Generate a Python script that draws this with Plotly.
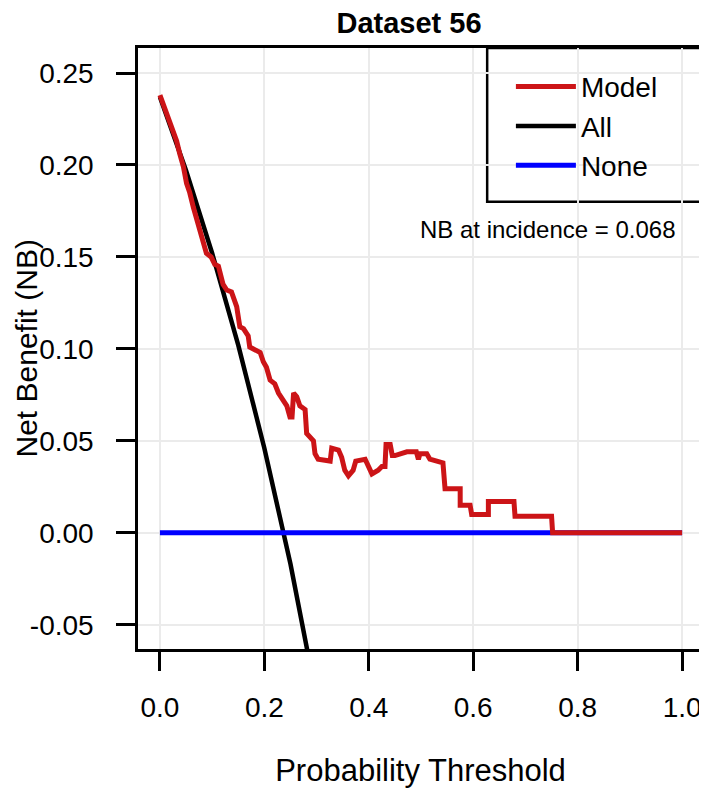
"""
plot.py — decision curve (net benefit) chart for Dataset 56.
"""

from __future__ import annotations

import plotly.graph_objects as go

# ── Data ──────────────────────────────────────────────────────────────────────

model_threshold = [
    0.000, 0.010, 0.022, 0.032, 0.038, 0.045, 0.051, 0.057, 0.064, 0.073,
    0.083, 0.089, 0.098, 0.105, 0.112, 0.118, 0.121, 0.128, 0.137, 0.147,
    0.153, 0.160, 0.169, 0.172, 0.179, 0.192, 0.198, 0.204, 0.211, 0.220,
    0.227, 0.235, 0.243, 0.249, 0.253, 0.256, 0.262, 0.268, 0.278, 0.281,
    0.294, 0.297, 0.303, 0.326, 0.329, 0.342, 0.348, 0.354, 0.361, 0.370,
    0.375, 0.393, 0.399, 0.406, 0.418, 0.425, 0.431, 0.433, 0.441, 0.445,
    0.450, 0.466, 0.473, 0.491, 0.495, 0.498, 0.511, 0.517, 0.536, 0.542,
    0.546, 0.575, 0.575, 0.594, 0.597, 0.629, 0.629, 0.678, 0.680, 0.750,
    0.752, 1.000,
]
model_nb = [
    0.238, 0.230, 0.221, 0.213, 0.206, 0.199, 0.190, 0.185, 0.177, 0.168,
    0.160, 0.152, 0.150, 0.146, 0.145, 0.138, 0.135, 0.132, 0.131, 0.123,
    0.112, 0.111, 0.107, 0.101, 0.100, 0.098, 0.093, 0.090, 0.083, 0.081,
    0.076, 0.072, 0.069, 0.063, 0.063, 0.076, 0.074, 0.069, 0.067, 0.054,
    0.050, 0.043, 0.040, 0.039, 0.046, 0.045, 0.041, 0.034, 0.031, 0.034,
    0.039, 0.040, 0.036, 0.032, 0.034, 0.036, 0.036, 0.048, 0.048, 0.042,
    0.042, 0.043, 0.044, 0.044, 0.040, 0.043, 0.043, 0.040, 0.039, 0.038,
    0.024, 0.024, 0.015, 0.015, 0.010, 0.010, 0.017, 0.017, 0.009, 0.009,
    0.000, 0.000,
]

all_threshold = [0.000, 0.050, 0.100, 0.150, 0.200, 0.250, 0.285]
all_nb        = [0.237, 0.197, 0.152, 0.102, 0.046, -0.017, -0.068]

none_threshold = [0.0, 1.0]
none_nb        = [0.0, 0.0]

x_tick_vals = [0.0, 0.2, 0.4, 0.6, 0.8, 1.0]
x_tick_text = ["0.0", "0.2", "0.4", "0.6", "0.8", "1.0"]
y_tick_vals = [-0.05, 0.00, 0.05, 0.10, 0.15, 0.20, 0.25]
y_tick_text = ["-0.05", "0.00", "0.05", "0.10", "0.15", "0.20", "0.25"]

# ── Theme ─────────────────────────────────────────────────────────────────────

_FONT   = "Liberation Sans, Arial, sans-serif"
_RED    = "#CC1417"
_BLACK  = "#000000"
_BLUE   = "#0000FF"
_GRID   = "#EBEBEB"

# the page body keeps its default 8px margin on every side, so the figure is
# made that much smaller (no scrollbar) and container positions are shifted
_BODY   = 8
_WIDTH  = 707 - _BODY
_HEIGHT = 796 - 2 * _BODY


def build_dca_chart() -> go.Figure:
    fig = go.Figure()

    # ── Curves (Model drawn last so it sits on top) ───────────────────────────
    fig.add_trace(go.Scatter(
        x=all_threshold, y=all_nb, name="All", mode="lines",
        line=dict(color=_BLACK, width=4.5), legendrank=2,
    ))
    fig.add_trace(go.Scatter(
        x=none_threshold, y=none_nb, name="None", mode="lines",
        line=dict(color=_BLUE, width=5), legendrank=3,
    ))
    fig.add_trace(go.Scatter(
        x=model_threshold, y=model_nb, name="Model", mode="lines",
        line=dict(color=_RED, width=5), legendrank=1,
    ))

    axis_style = dict(
        showline=True, mirror=True, linecolor=_BLACK, linewidth=2.5,
        showgrid=True, gridcolor=_GRID, gridwidth=2, zeroline=False,
        ticks="outside", ticklen=19, tickwidth=2.5, tickcolor=_BLACK,
        tickfont=dict(size=28, color=_BLACK, family=_FONT),
        automargin=False,
    )

    fig.update_layout(
        width=_WIDTH, height=_HEIGHT,
        paper_bgcolor="white", plot_bgcolor="white",
        font=dict(family=_FONT, color=_BLACK, size=29),
        margin=dict(l=138 - _BODY, r=4, t=48 - _BODY, b=147 - _BODY),
        title=dict(
            text="<b>Dataset 56</b>", font=dict(size=29),
            x=(409 - _BODY) / _WIDTH, xanchor="center",
            y=1 - (23 - _BODY) / _HEIGHT, yanchor="middle",
        ),
        xaxis=dict(
            **axis_style, range=[-0.042, 1.04],
            tickvals=x_tick_vals, ticktext=x_tick_text, ticklabelstandoff=13,
            title=dict(text="Probability Threshold", standoff=38, font=dict(size=31)),
        ),
        yaxis=dict(
            **axis_style, range=[-0.0632, 0.2636],
            tickvals=y_tick_vals, ticktext=y_tick_text, ticklabelstandoff=17,
        ),
        showlegend=True,
        legend=dict(
            x=0.660, y=0.977, xanchor="left", yanchor="top",
            bgcolor="rgba(0,0,0,0)", borderwidth=0,
            font=dict(size=28), itemwidth=60, tracegroupgap=0,
        ),
        shapes=[dict(
            type="rect", xref="paper", yref="paper",
            x0=0.618, x1=1.0, y0=0.744, y1=1.0,
            line=dict(color=_BLACK, width=2.5), fillcolor="white", layer="below",
        )],
        annotations=[
            dict(
                text="NB at incidence = 0.068", x=0.992, y=0.1647,
                xref="x", yref="y", xanchor="right", yanchor="middle",
                showarrow=False, font=dict(size=24),
            ),
            # y-axis title, placed by hand so it clears the tick labels
            dict(
                text="Net Benefit (NB)", textangle=-90,
                x=-(138 - 26) / 565, y=0.5, xref="paper", yref="paper",
                xanchor="center", yanchor="middle",
                showarrow=False, font=dict(size=30),
            ),
        ],
    )
    return fig


fig = build_dca_chart()
fig.write_html("out.html")
